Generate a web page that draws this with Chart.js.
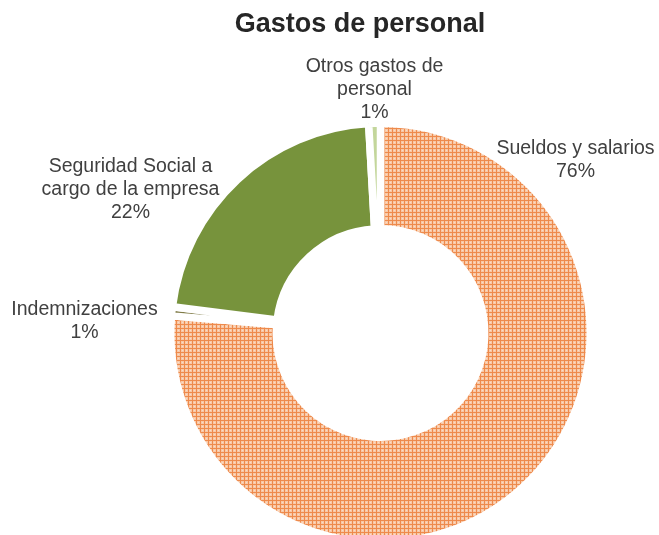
<!DOCTYPE html>
<html>
<head>
<meta charset="utf-8">
<script src="https://cdn.jsdelivr.net/npm/chart.js@4.4.1/dist/chart.umd.min.js"></script>
<style>
  html, body { margin: 0; padding: 0; background: #fff; overflow: hidden; }
  #wrap { position: relative; width: 659px; height: 560px; }
</style>
</head>
<body>
<div id="wrap"><canvas id="chart" width="659" height="560"></canvas></div>
<script>
// data
const TITLE = 'Gastos de personal';
const categories = [
  ['Sueldos y salarios'],
  ['Indemnizaciones'],
  ['Seguridad Social a', 'cargo de la empresa'],
  ['Otros gastos de', 'personal'],
];
const values = [76.3, 0.7, 22.1, 0.9];

// label anchors, relative to the doughnut centre (centre x, first baseline y)
const labelPos = [
  { dx: 195, dy: -179 },
  { dx: -296, dy: -18 },
  { dx: -250, dy: -161 },
  { dx: -6, dy: -261 },
];

const FONT = '"Liberation Sans", Arial, sans-serif';
const TEXT = '#404040';

function orangeGrid() {
  const p = document.createElement('canvas');
  p.width = 4; p.height = 4;
  const g = p.getContext('2d');
  g.fillStyle = '#F8C8A6';
  g.fillRect(0, 0, 4, 4);
  g.fillStyle = '#EE8A4C';
  g.fillRect(0, 0, 4, 1);
  g.fillRect(0, 0, 1, 4);
  g.fillStyle = '#FBDCC6';
  g.fillRect(2, 2, 1, 1);
  return g.createPattern(p, 'repeat');
}

const ctx = document.getElementById('chart').getContext('2d');
const colors = [orangeGrid(), '#807C48', '#77933C', '#C3D69B'];

const labelsPlugin = {
  id: 'sliceLabels',
  afterDraw(chart) {
    const c = chart.ctx;
    const arc = chart.getDatasetMeta(0).data[0];
    const total = values.reduce((a, b) => a + b, 0);
    c.save();
    c.textAlign = 'center';
    c.textBaseline = 'alphabetic';

    // title
    c.fillStyle = '#262626';
    c.font = 'bold 27px ' + FONT;
    c.fillText(TITLE, 360, 32);

    c.fillStyle = TEXT;
    c.font = '19.5px ' + FONT;
    categories.forEach((lines, i) => {
      const p = labelPos[i];
      const x = arc.x + p.dx;
      let y = arc.y + p.dy;
      const all = lines.concat([Math.round(values[i] / total * 100) + '%']);
      all.forEach((t) => { c.fillText(t, x, y); y += 22.8; });
    });
    c.restore();
  },
};

new Chart(ctx, {
  type: 'doughnut',
  data: {
    labels: categories,
    datasets: [{
      data: values,
      backgroundColor: colors,
      borderColor: '#ffffff',
      borderWidth: 7.5,
      hoverBorderWidth: 7.5,
    }],
  },
  options: {
    responsive: false,
    animation: false,
    devicePixelRatio: 1,
    cutout: '49.7%',
    layout: { padding: { left: 167, top: 119.5, right: 65, bottom: 13.5 } },
    plugins: { legend: { display: false }, tooltip: { enabled: false }, title: { display: false } },
  },
  plugins: [labelsPlugin],
});
</script>
</body>
</html>
